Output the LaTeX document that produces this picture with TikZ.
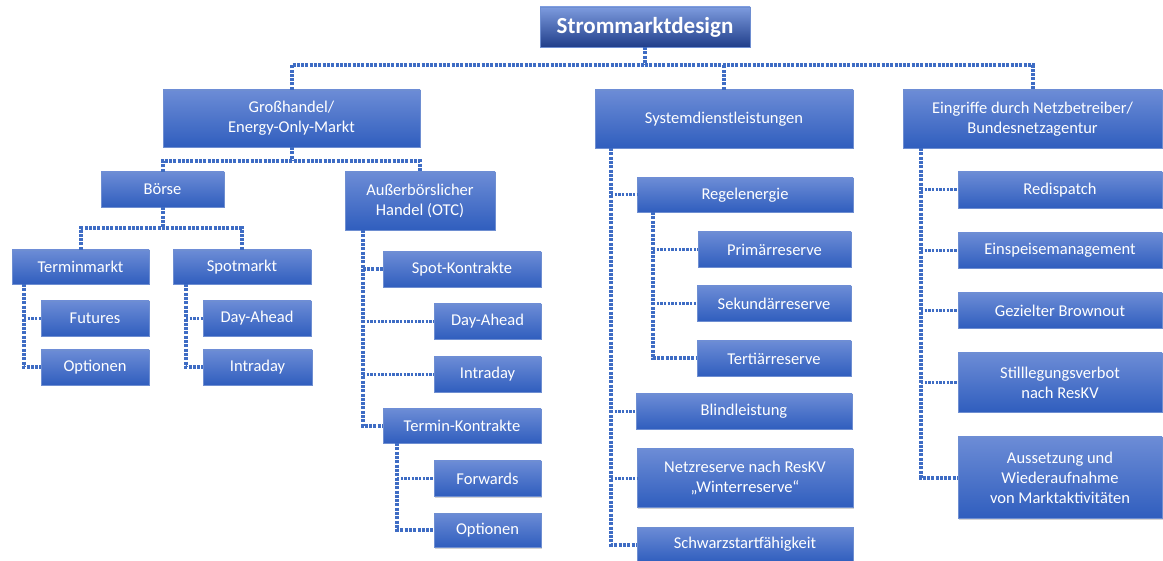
\documentclass[tikz,border=0pt]{standalone}
\usepackage{fontspec}
\setmainfont{Carlito}
\usetikzlibrary{shadows,calc}
\definecolor{boxtop}{RGB}{108,140,214}
\definecolor{boxbot}{RGB}{48,94,190}
\definecolor{ttop}{RGB}{125,155,222}
\definecolor{tbot}{RGB}{32,62,138}
\definecolor{link}{RGB}{62,108,196}
\tikzset{
  box/.style={rectangle, top color=boxtop, bottom color=boxbot,
    draw=boxbot!70!white, line width=0.4pt, text=white, align=center,
    inner sep=0pt, font=\fontsize{16.5}{20}\selectfont,
    drop shadow={shadow xshift=1.2pt, shadow yshift=-1.5pt, opacity=0.35}},
  titlebox/.style={box, top color=ttop, bottom color=tbot,
    font=\fontsize{23}{26}\selectfont\bfseries},
  trunk/.style={draw=link, line width=4pt, dash pattern=on 3pt off 1.3pt},
  branch/.style={draw=link, line width=3pt, dash pattern=on 2.4pt off 1.3pt},
}
% \mkbox[style]{name}{x1}{y1}{x2}{y2}{text}
\newcommand\mkbox[7][box]{%
  \node[#1, minimum width={(#5-#3)*1pt}, minimum height={(#6-#4)*1pt}]
    (#2) at ({(#3+#5)/2},{(#4+#6)/2}) {#7};}
\begin{document}
\begin{tikzpicture}[x=1pt,y=-1pt]
\useasboundingbox (0,0) rectangle (1163,561);

% boxes
\mkbox[titlebox]{title}{540}{7}{750}{47}{Strommarktdesign}
\mkbox{gross}{163}{90}{420}{147}{Großhandel/\\Energy-Only-Markt}
\mkbox{sys}{595}{90}{853}{148}{Systemdienstleistungen}
\mkbox{eing}{903}{90}{1162}{148}{Eingriffe durch Netzbetreiber/\\Bundesnetzagentur}

\mkbox{boerse}{101}{172}{224}{207}{Börse}
\mkbox{otc}{345}{172}{495}{230}{Außerbörslicher\\Handel (OTC)}
\mkbox{termin}{12}{250}{149}{284}{Terminmarkt}
\mkbox{spot}{173}{250}{311}{284}{Spotmarkt}
\mkbox{futures}{41}{301}{149}{336}{Futures}
\mkbox{optA}{41}{350}{149}{385}{Optionen}
\mkbox{daA}{203}{301}{311}{336}{Day-Ahead}
\mkbox{intraA}{203}{350}{312}{385}{Intraday}

\mkbox{spotK}{383}{252}{541}{287}{Spot-Kontrakte}
\mkbox{daB}{434}{304}{541}{339}{Day-Ahead}
\mkbox{intraB}{434}{357}{541}{392}{Intraday}
\mkbox{terminK}{383}{409}{541}{443}{Termin-Kontrakte}
\mkbox{forwards}{434}{461}{541}{496}{Forwards}
\mkbox{optB}{434}{513}{541}{547}{Optionen}

\mkbox{regel}{637}{178}{853}{212}{Regelenergie}
\mkbox{prim}{698}{232}{851}{267}{Primärreserve}
\mkbox{sek}{697}{286}{851}{321}{Sekundärreserve}
\mkbox{tert}{697}{341}{851}{376}{Tertiärreserve}
\mkbox{blind}{636}{394}{852}{429}{Blindleistung}
\mkbox{netz}{637}{449}{853}{507}{Netzreserve nach ResKV\\„Winterreserve“}
\mkbox{schwarz}{637}{527}{853}{562}{Schwarzstartfähigkeit}

\mkbox{redis}{958}{172}{1162}{208}{Redispatch}
\mkbox{einsp}{958}{233}{1162}{268}{Einspeisemanagement}
\mkbox{brown}{958}{293}{1162}{328}{Gezielter Brownout}
\mkbox{still}{958}{353}{1162}{412}{Stilllegungsverbot\\nach ResKV}
\mkbox{auss}{958}{437}{1162}{518}{Aussetzung und\\Wiederaufnahme\\von Marktaktivitäten}

% horizontal buses
\coordinate (bus1) at (0,65);
\coordinate (bus2) at (0,161);
\coordinate (bus3) at (0,228);
\draw[trunk] (title.south) -- (title.south |- bus1);
\draw[trunk] (gross.north) -- (gross.north |- bus1) -- (eing.north |- bus1) -- (eing.north);
\draw[trunk] (sys.north) -- (sys.north |- bus1);
\draw[trunk] (gross.south) -- (gross.south |- bus2);
\draw[trunk] (boerse.north) -- (boerse.north |- bus2) -- (otc.north |- bus2) -- (otc.north);
\draw[trunk] (boerse.south) -- (boerse.south |- bus3);
\draw[trunk] (termin.north) -- (termin.north |- bus3) -- (spot.north |- bus3) -- (spot.north);

% vertical lists
\coordinate (tA) at ([xshift=12pt]termin.south west);
\draw[trunk] (tA) |- (optA.west);
\draw[branch] (tA |- futures.west) -- (futures.west);

\coordinate (tB) at ([xshift=13pt]spot.south west);
\draw[trunk] (tB) |- (intraA.west);
\draw[branch] (tB |- daA.west) -- (daA.west);

\coordinate (tC) at ([xshift=18pt]otc.south west);
\draw[trunk] (tC) |- (terminK.west);
\draw[trunk] (tC |- spotK.west) -- (spotK.west);
\draw[branch] (tC |- daB.west) -- (daB.west);
\draw[branch] (tC |- intraB.west) -- (intraB.west);

\coordinate (tD) at ([xshift=14pt]terminK.south west);
\draw[trunk] (tD) |- (optB.west);
\draw[branch] (tD |- forwards.west) -- (forwards.west);

\coordinate (tE) at ([xshift=16pt]sys.south west);
\draw[trunk] (tE) |- (schwarz.west);
\draw[branch] (tE |- regel.west) -- (regel.west);
\draw[branch] (tE |- blind.west) -- (blind.west);
\draw[branch] (tE |- netz.west) -- (netz.west);

\coordinate (tF) at ([xshift=16pt]regel.south west);
\draw[trunk] (tF) |- (tert.west);
\draw[branch] (tF |- prim.west) -- (prim.west);
\draw[branch] (tF |- sek.west) -- (sek.west);

\coordinate (tG) at ([xshift=18pt]eing.south west);
\draw[trunk] (tG) |- (auss.west);
\draw[branch] (tG |- redis.west) -- (redis.west);
\draw[branch] (tG |- einsp.west) -- (einsp.west);
\draw[branch] (tG |- brown.west) -- (brown.west);
\draw[branch] (tG |- still.west) -- (still.west);
\end{tikzpicture}
\end{document}
